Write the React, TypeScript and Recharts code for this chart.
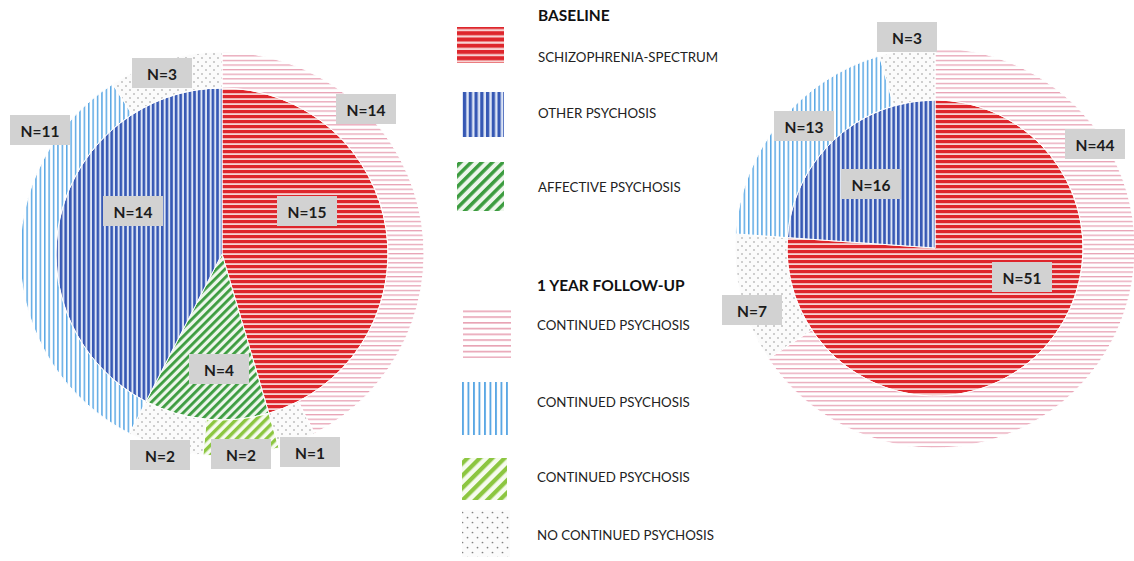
import { PieChart, Pie, Cell } from 'recharts'

// left pie (n=33), slices listed clockwise from 12 o'clock
const leftBaselineNames = ['Schizophrenia-spectrum', 'Affective psychosis', 'Other psychosis']
const leftBaselineValues = [15, 4, 14]
const leftFollowNames = [
  'Schizophrenia-spectrum: continued',
  'Schizophrenia-spectrum: no continued',
  'Affective: continued',
  'Affective: no continued',
  'Other: continued',
  'Other: no continued',
]
const leftFollowValues = [14, 1, 2, 2, 11, 3]

// right pie (n=67)
const rightBaselineNames = ['Schizophrenia-spectrum', 'Other psychosis']
const rightBaselineValues = [51, 16]
const rightFollowNames = [
  'Schizophrenia-spectrum: continued',
  'Schizophrenia-spectrum: no continued',
  'Other: continued',
  'Other: no continued',
]
const rightFollowValues = [44, 7, 13, 3]

const legendBaseline = ['SCHIZOPHRENIA-SPECTRUM', 'OTHER PSYCHOSIS', 'AFFECTIVE PSYCHOSIS']
const legendFollow = ['CONTINUED PSYCHOSIS', 'CONTINUED PSYCHOSIS', 'CONTINUED PSYCHOSIS', 'NO CONTINUED PSYCHOSIS']

const toRows = (names: string[], values: number[]) => names.map((name, i) => ({ name, value: values[i] }))

const leftInner = toRows(leftBaselineNames, leftBaselineValues)
const leftOuter = toRows(leftFollowNames, leftFollowValues)
const rightInner = toRows(rightBaselineNames, rightBaselineValues)
const rightOuter = toRows(rightFollowNames, rightFollowValues)

// fills (pattern ids)
const leftInnerFills = ['red', 'green', 'blue']
const leftOuterFills = ['pink', 'dots', 'lgreen', 'dots', 'lblue', 'dots']
const rightInnerFills = ['red', 'blue']
const rightOuterFills = ['pink', 'dots', 'lblue', 'dots']

// label box offsets from the pie centre (placed by hand in the original)
const leftInnerLabelPos = [[85, -43], [-3, 115], [-89, -43]]
const leftOuterLabelPos = [[144, -145], [88, 198], [19, 200], [-62, 201], [-182, -124], [-60, -181]]
const rightInnerLabelPos = [[87, 29], [-64, -64]]
const rightOuterLabelPos = [[160, -104], [-183, 62], [-131, -122], [-28, -211]]

function Patterns({ p, s = 1 }: { p: string; s?: number }) {
  const sc = `scale(${s})`
  return (
    <defs>
      <pattern id={p + 'red'} width={5} height={5} patternUnits="userSpaceOnUse" patternTransform={sc}>
        <rect width={5} height={5} fill="#f7d3d3" />
        <rect width={5} height={3.2} fill="#de262c" />
      </pattern>
      <pattern id={p + 'pink'} width={5} height={4.6} patternUnits="userSpaceOnUse" patternTransform={sc}>
        <rect width={5} height={4.6} fill="#ffffff" />
        <rect width={5} height={1.3} fill="#e8a3b5" />
      </pattern>
      <pattern id={p + 'blue'} width={4.6} height={5} patternUnits="userSpaceOnUse" patternTransform={sc}>
        <rect width={4.6} height={5} fill="#dde5f5" />
        <rect width={2.6} height={5} fill="#3658b4" />
      </pattern>
      <pattern id={p + 'lblue'} width={4.4} height={5} patternUnits="userSpaceOnUse" patternTransform={sc}>
        <rect width={4.4} height={5} fill="#ffffff" />
        <rect width={1.5} height={5} fill="#5aa7e4" />
      </pattern>
      <pattern id={p + 'green'} width={6} height={6} patternUnits="userSpaceOnUse" patternTransform={`rotate(45) ${sc}`}>
        <rect width={6} height={6} fill="#eef6ec" />
        <rect width={2.8} height={6} fill="#3c9c3f" />
      </pattern>
      <pattern id={p + 'lgreen'} width={7} height={7} patternUnits="userSpaceOnUse" patternTransform={`rotate(45) ${sc}`}>
        <rect width={7} height={7} fill="#f6fbef" />
        <rect width={3.4} height={7} fill="#8cc640" />
      </pattern>
      <pattern id={p + 'dots'} width={8} height={8} patternUnits="userSpaceOnUse" patternTransform={sc}>
        <rect width={8} height={8} fill="#fbfbfb" />
        <circle cx={2} cy={2} r={0.7} fill="#808080" />
        <circle cx={6} cy={6} r={0.7} fill="#808080" />
      </pattern>
    </defs>
  )
}

const makeLabel = (pos: number[][]) => (props: any) => {
  const { cx, cy, index, value } = props
  const x = cx + pos[index][0]
  const y = cy + pos[index][1]
  return (
    <g>
      <rect x={x - 30} y={y - 15} width={60} height={30} fill="#d2d2d2" />
      <text
        x={x}
        y={y + 1}
        textAnchor="middle"
        dominantBaseline="central"
        fontFamily="Lato, sans-serif"
        fontWeight={700}
        fontSize={15.5}
        fill="#1c1c1c"
      >
        N={value}
      </text>
    </g>
  )
}

const labelText = { fontFamily: 'Lato, sans-serif', fontSize: 13.3, fill: '#222' }
const headText = { fontFamily: 'Lato, sans-serif', fontSize: 15.5, fontWeight: 700, fill: '#111' }

export default function App() {
  const pieCommon = {
    dataKey: 'value',
    startAngle: 90,
    endAngle: -270,
    stroke: '#ffffff',
    strokeWidth: 1,
    labelLine: false,
    isAnimationActive: false,
  }
  return (
    <div style={{ position: 'absolute', left: 0, top: 0, width: 1134, height: 561, background: '#fff', overflow: 'hidden' }}>
      <PieChart width={1134} height={561} margin={{ top: 0, right: 0, bottom: 0, left: 0 }}>
        <Patterns p="c-" />
        <Pie {...pieCommon} data={leftInner} cx={222} cy={254} innerRadius={0} outerRadius={166} label={makeLabel(leftInnerLabelPos)}>
          {leftInner.map((d, i) => <Cell key={d.name} fill={`url(#c-${leftInnerFills[i]})`} />)}
        </Pie>
        <Pie {...pieCommon} data={leftOuter} cx={222} cy={254} innerRadius={166} outerRadius={202} label={makeLabel(leftOuterLabelPos)}>
          {leftOuter.map((d, i) => <Cell key={d.name} fill={`url(#c-${leftOuterFills[i]})`} />)}
        </Pie>
        <Pie {...pieCommon} data={rightInner} cx={935} cy={248} innerRadius={0} outerRadius={148} label={makeLabel(rightInnerLabelPos)}>
          {rightInner.map((d, i) => <Cell key={d.name} fill={`url(#c-${rightInnerFills[i]})`} />)}
        </Pie>
        <Pie {...pieCommon} data={rightOuter} cx={935} cy={248} innerRadius={148} outerRadius={200} label={makeLabel(rightOuterLabelPos)}>
          {rightOuter.map((d, i) => <Cell key={d.name} fill={`url(#c-${rightOuterFills[i]})`} />)}
        </Pie>
      </PieChart>

      {/* legend */}
      <svg width={300} height={561} style={{ position: 'absolute', left: 440, top: 0 }}>
        <Patterns p="l-" s={1.25} />
        <text x={98} y={15} dominantBaseline="central" {...headText}>BASELINE</text>
        <rect x={17} y={27} width={47} height={36} fill="url(#l-red)" />
        <text x={98} y={57} dominantBaseline="central" {...labelText}>{legendBaseline[0]}</text>
        <rect x={22} y={92} width={42} height={45} fill="url(#l-blue)" />
        <text x={98} y={113} dominantBaseline="central" {...labelText}>{legendBaseline[1]}</text>
        <rect x={17} y={162} width={47} height={49} fill="url(#l-green)" />
        <text x={98} y={187} dominantBaseline="central" {...labelText}>{legendBaseline[2]}</text>

        <text x={97} y={285} dominantBaseline="central" {...headText}>1 YEAR FOLLOW-UP</text>
        <rect x={23} y={309} width={48} height={49} fill="url(#l-pink)" />
        <text x={97} y={325} dominantBaseline="central" {...labelText}>{legendFollow[0]}</text>
        <rect x={22} y={382} width={46} height={53} fill="url(#l-lblue)" />
        <text x={97} y={402} dominantBaseline="central" {...labelText}>{legendFollow[1]}</text>
        <rect x={22} y={458} width={45} height={42} fill="url(#l-lgreen)" />
        <text x={97} y={477} dominantBaseline="central" {...labelText}>{legendFollow[2]}</text>
        <rect x={22} y={510} width={48} height={47} fill="url(#l-dots)" />
        <text x={97} y={535} dominantBaseline="central" {...labelText}>{legendFollow[3]}</text>
      </svg>
    </div>
  )
}
